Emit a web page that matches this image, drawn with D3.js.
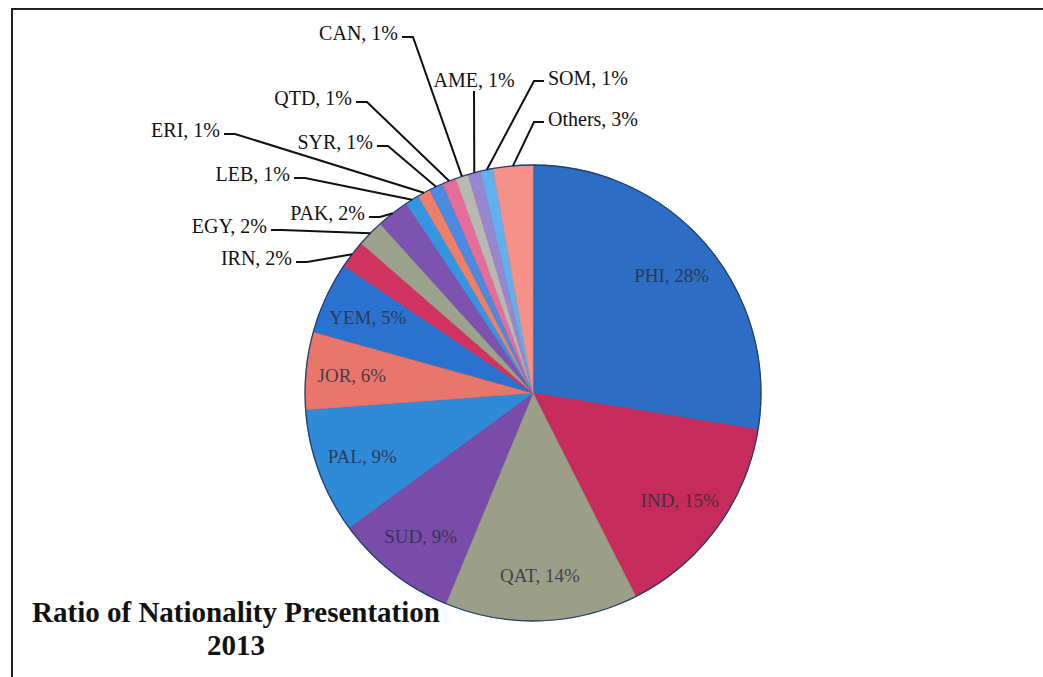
<!DOCTYPE html>
<html>
<head>
<meta charset="utf-8">
<script src="https://cdn.jsdelivr.net/npm/d3@7"></script>
<style>
  body { margin: 0; background: #fff; }
  svg { display: block; }
</style>
</head>
<body>
<div id="chart"></div>
<script>
// nationality shares, clockwise from 12 o'clock
const countries = ["PHI", "IND", "QAT", "SUD", "PAL", "JOR", "YEM", "IRN", "EGY", "PAK",
  "LEB", "ERI", "SYR", "QTD", "CAN", "AME", "SOM", "Others"];
const shares = [27.6, 15.0, 13.7, 8.7, 8.9, 5.5, 5.1, 2.0, 1.9, 2.3,
  1.0, 0.9, 1.0, 1.0, 0.9, 0.9, 0.9, 2.8];
const colors = ["#2d6dc3", "#c72b5b", "#9b9f88", "#7a4caa", "#2f8ad8", "#e8766a", "#2a72cf",
  "#d0335f", "#9ca38c", "#7e52b0", "#3695df", "#ee8069", "#4a8ae0", "#e66c9a",
  "#b9b9b2", "#9a86d0", "#62b0ee", "#f4928a"];
const titleLines = ["Ratio of Nationality Presentation", "2013"];

// where the outside labels sit: [x, baseline, anchor]
const outside = {
  IRN: [292, 265, "end"],
  EGY: [267, 233, "end"],
  PAK: [365, 220, "end"],
  LEB: [290, 181, "end"],
  ERI: [220, 137, "end"],
  SYR: [373, 149, "end"],
  QTD: [352, 105, "end"],
  CAN: [398, 40, "end"],
  AME: [474, 87, "middle"],
  SOM: [548, 85, "start"],
  Others: [548, 126, "start"]
};

document.addEventListener('DOMContentLoaded', () => {
  let width = 1043, height = 677;
  let cx = 533, cy = 393, radius = 228;

  let svg = d3.select("#chart").append("svg")
    .attr("width", width)
    .attr("height", height)
    .style("background", "#fff");

  // frame (top + left only, the rest is cropped off)
  svg.append("path")
    .attr("d", `M12,${height} V9 H${width}`)
    .attr("fill", "none")
    .attr("stroke", "#222")
    .attr("stroke-width", 2);

  let data = countries.map((c, i) => ({ name: c, value: shares[i], color: colors[i] }));

  let pie = d3.pie().sort(null).value(d => d.value);
  let arcs = pie(data);
  let arc = d3.arc().innerRadius(0).outerRadius(radius);
  let labelArc = d3.arc().innerRadius(182).outerRadius(182);

  let g = svg.append("g").attr("transform", `translate(${cx},${cy})`);

  g.selectAll("path.slice").data(arcs).enter().append("path")
    .attr("class", "slice")
    .attr("d", arc)
    .attr("fill", d => d.data.color)
    .attr("stroke", d => d3.color(d.data.color).darker(0.3))
    .attr("stroke-width", 0.6);

  g.append("circle")
    .attr("r", radius)
    .attr("fill", "none")
    .attr("stroke", "#233f6e")
    .attr("stroke-width", 1.3);

  let pct = d => d.data.name + ", " + Math.round(d.data.value) + "%";

  // labels drawn inside the bigger slices
  g.selectAll("text.inner").data(arcs.filter(d => !outside[d.data.name])).enter().append("text")
    .attr("class", "inner")
    .attr("transform", d => `translate(${labelArc.centroid(d)})`)
    .attr("text-anchor", "middle")
    .attr("dy", "0.35em")
    .style("font-family", "'Liberation Serif', 'DejaVu Serif', serif")
    .style("font-size", "19px")
    .attr("fill", "#2a2f40")
    .attr("fill-opacity", 0.85)
    .text(pct);

  function edge(d) {
    let a = (d.startAngle + d.endAngle) / 2;
    return [cx + radius * Math.sin(a), cy - radius * Math.cos(a)];
  }

  // leader lines + labels for the small slices
  let small = arcs.filter(d => outside[d.data.name]);

  svg.selectAll("path.leader").data(small).enter().append("path")
    .attr("class", "leader")
    .attr("d", d => {
      let [x, y, anchor] = outside[d.data.name];
      let p = edge(d);
      if (anchor == "end") return `M${x + 4},${y - 3} H${x + 15} L${p[0]},${p[1]}`;
      if (anchor == "start") return `M${x - 4},${y - 4} H${x - 14} L${p[0]},${p[1]}`;
      return `M${x},${y + 4} L${p[0]},${p[1]}`;
    })
    .attr("fill", "none")
    .attr("stroke", "#111")
    .attr("stroke-width", 2);

  svg.selectAll("text.outer").data(small).enter().append("text")
    .attr("class", "outer")
    .attr("x", d => outside[d.data.name][0])
    .attr("y", d => outside[d.data.name][1])
    .attr("text-anchor", d => outside[d.data.name][2])
    .style("font-family", "'Liberation Serif', 'Times New Roman', serif")
    .style("font-size", "20px")
    .attr("fill", "#111")
    .text(pct);

  svg.selectAll("text.title").data(titleLines).enter().append("text")
    .attr("class", "title")
    .attr("x", 236)
    .attr("y", (d, i) => 622 + i * 33)
    .attr("text-anchor", "middle")
    .style("font-family", "'Liberation Serif', 'Times New Roman', serif")
    .style("font-size", "29px")
    .style("font-weight", "bold")
    .attr("fill", "#111")
    .text(d => d);
});
</script>
</body>
</html>
